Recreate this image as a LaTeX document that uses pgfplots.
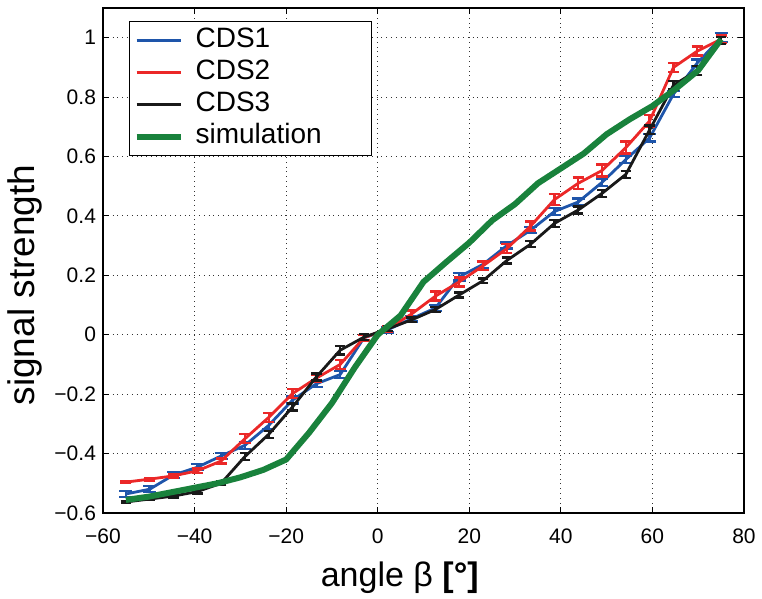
\documentclass[border=0pt]{standalone}
\usepackage{fontspec}
\setmainfont{Liberation Sans}
\usepackage{pgfplots}
\usepackage{pgfplotstable}
\pgfplotsset{compat=1.18}
\definecolor{cdsblue}{RGB}{30,85,170}
\definecolor{cdsred}{RGB}{235,40,40}
\definecolor{cdsblack}{RGB}{25,25,25}
\definecolor{simgreen}{RGB}{25,130,60}

\pgfplotstableread{
x y e
-55 -0.536 0.010
-49.8 -0.520 0.010
-44.6 -0.472 0.010
-39.4 -0.446 0.010
-34.2 -0.408 0.010
-29.0 -0.372 0.012
-23.8 -0.305 0.012
-18.6 -0.220 0.012
-13.4 -0.165 0.010
-8.2 -0.134 0.012
-3.0 -0.010 0.010
2.2 0.017 0.010
7.4 0.054 0.010
12.6 0.090 0.010
17.8 0.195 0.012
23.0 0.237 0.012
28.2 0.300 0.010
33.4 0.352 0.010
38.6 0.415 0.012
43.8 0.447 0.012
49.0 0.513 0.012
54.2 0.590 0.012
59.4 0.663 0.012
64.6 0.810 0.010
69.8 0.915 0.012
75.0 1.000 0.015
}\cdsone

\pgfplotstableread{
x y e
-55 -0.496 0.004
-49.8 -0.486 0.004
-44.6 -0.475 0.005
-39.4 -0.458 0.008
-34.2 -0.425 0.008
-29.0 -0.350 0.015
-23.8 -0.278 0.015
-18.6 -0.198 0.015
-13.4 -0.146 0.012
-8.2 -0.100 0.015
-3.0 -0.010 0.010
2.2 0.020 0.010
7.4 0.070 0.012
12.6 0.130 0.015
17.8 0.178 0.015
23.0 0.232 0.015
28.2 0.290 0.015
33.4 0.366 0.015
38.6 0.455 0.018
43.8 0.510 0.020
49.0 0.553 0.020
54.2 0.630 0.020
59.4 0.720 0.020
64.6 0.900 0.015
69.8 0.955 0.015
75.0 0.995 0.012
}\cdstwo

\pgfplotstableread{
x y e
-55 -0.563 0.004
-49.8 -0.553 0.004
-44.6 -0.543 0.005
-39.4 -0.528 0.006
-34.2 -0.500 0.006
-29.0 -0.410 0.012
-23.8 -0.335 0.012
-18.6 -0.243 0.012
-13.4 -0.142 0.012
-8.2 -0.052 0.015
-3.0 -0.008 0.010
2.2 0.020 0.008
7.4 0.050 0.008
12.6 0.085 0.008
17.8 0.134 0.008
23.0 0.182 0.008
28.2 0.250 0.010
33.4 0.305 0.010
38.6 0.375 0.012
43.8 0.420 0.012
49.0 0.476 0.012
54.2 0.540 0.012
59.4 0.690 0.015
64.6 0.840 0.015
69.8 0.890 0.015
75.0 0.990 0.012
}\cdsthree

\pgfplotstableread{
x y
-55 -0.556
-50 -0.545
-45 -0.530
-40 -0.515
-35 -0.500
-30 -0.480
-25 -0.455
-20 -0.420
-15 -0.330
-10 -0.230
-5 -0.110
0 0.000
5 0.065
10 0.178
15 0.245
20 0.310
25 0.385
30 0.440
35 0.510
40 0.560
45 0.610
50 0.675
55 0.725
60 0.770
65 0.827
70 0.890
75 0.995
}\simul

\begin{document}
\begin{tikzpicture}
\begin{axis}[
  name=ax,
  width=320.5pt, height=252.5pt, scale only axis,
  xmin=-60, xmax=80, ymin=-0.6, ymax=1.1,
  xtick={-60,-40,-20,0,20,40,60,80},
  xticklabels={−60,−40,−20,0,20,40,60,80},
  ytick={-0.6,-0.4,-0.2,0,0.2,0.4,0.6,0.8,1},
  yticklabels={−0.6,−0.4,−0.2,0,0.2,0.4,0.6,0.8,1},
  tick label style={font=\fontsize{10.5pt}{12pt}\selectfont, text=black},
  xticklabel style={yshift=-4.5pt},
  major tick length=3pt,
  tick style={black, line width=0.5pt},
  axis line style={black, line width=0.6pt},
  grid=major,
  major grid style={black!80, dotted, line width=0.5pt},
  xlabel={angle β \textbf{[°]}},
  ylabel={signal strength},
  xlabel style={font=\fontsize{17pt}{20pt}\selectfont, at={(axis description cs:0.463,-0.1287)}, anchor=center},
  ylabel style={font=\fontsize{18.5pt}{22pt}\selectfont, at={(axis description cs:-0.1217,0.4515)}, anchor=center},
  legend style={at={(axis description cs:0.0406,0.974)}, anchor=north west,
    draw=black, line width=0.6pt, fill=white,
    font=\fontsize{14pt}{16pt}\selectfont,
    inner xsep=2pt, inner ysep=2pt, row sep=1pt,
    nodes={text width=80pt, align=left, inner xsep=6pt, inner ysep=1pt, text height=10pt, text depth=3pt}},
  legend cell align=left,
  legend image code/.code={\draw[#1, line cap=butt] (0pt,0pt) -- (22pt,0pt);},
]
\addplot[cdsblue, line width=1.4pt, mark=none, legend image post style={line width=1.6pt},
  error bars/.cd, y dir=both, y explicit,
  error bar style={cdsblue, line width=1.2pt}, error mark options={cdsblue, line width=1.2pt, mark size=3.2pt, rotate=90}]
  table[x=x, y=y, y error=e] {\cdsone};
\addlegendentry{CDS1}
\addplot[cdsred, line width=1.4pt, mark=none, legend image post style={line width=1.6pt},
  error bars/.cd, y dir=both, y explicit,
  error bar style={cdsred, line width=1.2pt}, error mark options={cdsred, line width=1.2pt, mark size=2.8pt, rotate=90}]
  table[x=x, y=y, y error=e] {\cdstwo};
\addlegendentry{CDS2}
\addplot[cdsblack, line width=1.4pt, mark=none, legend image post style={line width=1.6pt},
  error bars/.cd, y dir=both, y explicit,
  error bar style={cdsblack, line width=1.2pt}, error mark options={cdsblack, line width=1.2pt, mark size=2.6pt, rotate=90}]
  table[x=x, y=y, y error=e] {\cdsthree};
\addlegendentry{CDS3}
\addplot[simgreen, line width=3pt, mark=none, line join=round, legend image post style={line width=3pt}] table[x=x, y=y] {\simul};
\addlegendentry{simulation}
\end{axis}
\pgfresetboundingbox
\path[use as bounding box] ([xshift=-51.5pt,yshift=-43pt]ax.south west) rectangle ([xshift=9pt,yshift=4pt]ax.north east);
\end{tikzpicture}
\end{document}
